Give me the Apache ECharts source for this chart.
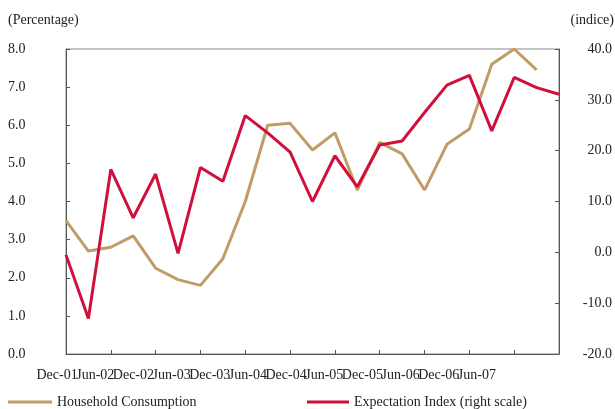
<!DOCTYPE html>
<html>
<head>
<meta charset="utf-8">
<title>Household Consumption vs Expectation Index</title>
<script src="https://cdn.jsdelivr.net/npm/echarts@6/dist/echarts.min.js"></script>
<style>
  html, body { margin: 0; padding: 0; background: #fff; }
  #chart { width: 615px; height: 409px; }
</style>
</head>
<body>
<div id="chart"></div>
<script>
// quarterly points, Dec-01 .. Jun-07
var quarters = ['Dec-01','Mar-02','Jun-02','Sep-02','Dec-02','Mar-03','Jun-03','Sep-03',
  'Dec-03','Mar-04','Jun-04','Sep-04','Dec-04','Mar-05','Jun-05','Sep-05',
  'Dec-05','Mar-06','Jun-06','Sep-06','Dec-06','Mar-07','Jun-07'];
// labels printed under the axis (semi-annual)
var tickLabels = ['Dec-01','Jun-02','Dec-02','Jun-03','Dec-03','Jun-04','Dec-04',
  'Jun-05','Dec-05','Jun-06','Dec-06','Jun-07'];

var consumption = [3.5, 2.7, 2.8, 3.1, 2.25, 1.95, 1.8, 2.5, 4.0, 6.0, 6.05, 5.35, 5.8,
  4.3, 5.55, 5.25, 4.3, 5.5, 5.9, 7.6, 8.0, 7.45, null];
var expectation = [-0.5, -13.0, 16.3, 6.8, 15.4, -0.2, 16.7, 14.0, 26.9, 23.5, 19.7, 10.0,
  19.0, 12.9, 21.1, 21.9, 27.5, 32.9, 34.8, 23.9, 34.4, 32.4, 31.1];

var TAN = '#C29C68';
var RED = '#D0103C';
var FONT = 'Liberation Serif';
var FS = 14;
var AXIS = '#555';

var chart = echarts.init(document.getElementById('chart'));

chart.setOption({
  animation: false,
  textStyle: { fontFamily: FONT, color: '#222' },
  title: [
    { text: '(Percentage)', left: 8, top: 13, padding: 0, textStyle: { fontFamily: FONT, fontSize: FS, fontWeight: 'normal', color: '#222' } },
    { text: '(indice)', right: 1, top: 13, padding: 0, textStyle: { fontFamily: FONT, fontSize: FS, fontWeight: 'normal', color: '#222' } }
  ],
  legend: [
    { data: ['Household Consumption'], left: 8, top: 395, padding: 0, icon: 'rect', itemWidth: 44, itemHeight: 3,
      textStyle: { fontFamily: FONT, fontSize: FS, color: '#222' } },
    { data: ['Expectation Index (right scale)'], left: 307, top: 395, padding: 0, icon: 'rect', itemWidth: 42, itemHeight: 3,
      textStyle: { fontFamily: FONT, fontSize: FS, color: '#222' } }
  ],
  grid: [
    { left: 66, right: 53, top: 49, bottom: 55, show: true, borderColor: '#888', borderWidth: 1 },
    // only used to place the semi-annual labels the way the original prints them
    { left: 38, width: 458, top: 49, bottom: 55 }
  ],
  xAxis: [
    {
      type: 'category', gridIndex: 0, data: quarters, boundaryGap: false,
      axisLine: { lineStyle: { color: AXIS, width: 1 } },
      axisTick: { inside: true, length: 4, interval: 1, lineStyle: { color: AXIS } },
      axisLabel: { show: false },
      splitLine: { show: false }
    },
    {
      type: 'category', gridIndex: 1, data: tickLabels, boundaryGap: true,
      axisLine: { show: false }, axisTick: { show: false },
      axisLabel: { interval: 0, margin: 14, fontFamily: FONT, fontSize: FS, color: '#222' },
      splitLine: { show: false }
    }
  ],
  yAxis: [
    {
      type: 'value', gridIndex: 0, min: 0, max: 8, interval: 1, position: 'left',
      axisLine: { show: true, lineStyle: { color: AXIS } },
      axisTick: { show: true, inside: true, length: 4, lineStyle: { color: AXIS } },
      axisLabel: { align: 'left', margin: 58, fontFamily: FONT, fontSize: FS, color: '#222',
        formatter: function (v) { return v.toFixed(1); } },
      splitLine: { show: false }
    },
    {
      type: 'value', gridIndex: 0, min: -20, max: 40, interval: 10, position: 'right',
      axisLine: { show: true, lineStyle: { color: AXIS } },
      axisTick: { show: true, inside: true, length: 4, lineStyle: { color: AXIS } },
      axisLabel: { align: 'right', margin: 53, fontFamily: FONT, fontSize: FS, color: '#222',
        formatter: function (v) { return v.toFixed(1); } },
      splitLine: { show: false }
    },
    { type: 'value', gridIndex: 1, show: false }
  ],
  series: [
    {
      name: 'Household Consumption', type: 'line', xAxisIndex: 0, yAxisIndex: 0,
      data: consumption, symbol: 'none', color: TAN,
      lineStyle: { color: TAN, width: 3 }
    },
    {
      name: 'Expectation Index (right scale)', type: 'line', xAxisIndex: 0, yAxisIndex: 1,
      data: expectation, symbol: 'none', color: RED,
      lineStyle: { color: RED, width: 3 }
    }
  ]
});
</script>
</body>
</html>
